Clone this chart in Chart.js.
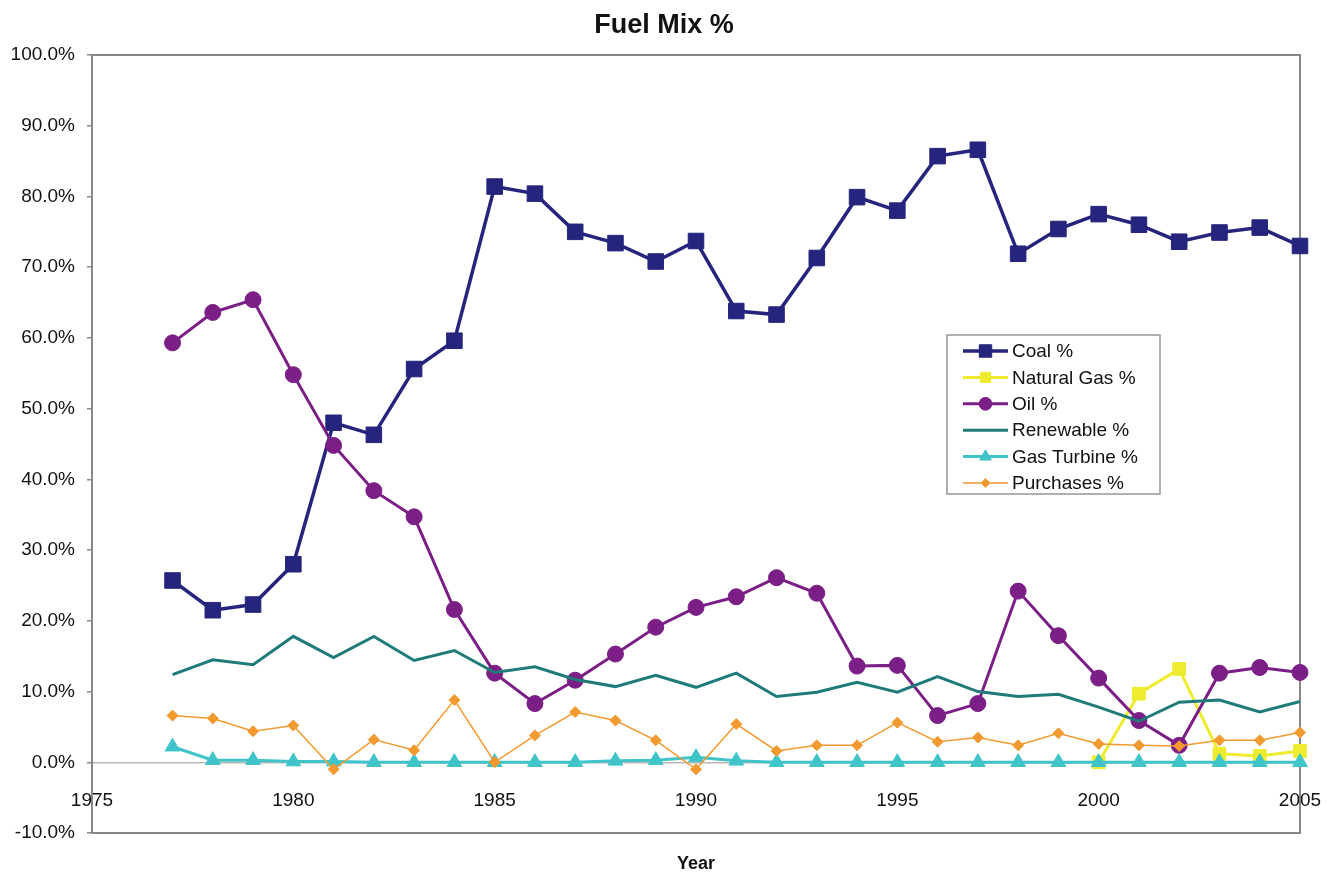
<!DOCTYPE html>
<html>
<head>
<meta charset="utf-8">
<title>Fuel Mix %</title>
<script src="https://cdn.jsdelivr.net/npm/chart.js@4.4.1/dist/chart.umd.min.js"></script>
<style>
  html, body { margin: 0; padding: 0; background: #ffffff; }
  #wrap { width: 1334px; height: 873px; position: relative; }
</style>
</head>
<body>
<div id="wrap"><canvas id="fuelMix"></canvas></div>
<script>
// Yearly fuel mix shares, in percent of total supply
const years = [1977, 1978, 1979, 1980, 1981, 1982, 1983, 1984, 1985, 1986,
               1987, 1988, 1989, 1990, 1991, 1992, 1993, 1994, 1995, 1996,
               1997, 1998, 1999, 2000, 2001, 2002, 2003, 2004, 2005];

const coal = [25.7, 21.5, 22.3, 28.0, 48.0, 46.3, 55.6, 59.6, 81.4, 80.4,
              75.0, 73.4, 70.8, 73.7, 63.8, 63.3, 71.3, 79.9, 78.0, 85.7,
              86.6, 71.9, 75.4, 77.5, 76.0, 73.6, 74.9, 75.6, 73.0];

const naturalGas = [null, null, null, null, null, null, null, null, null, null,
                    null, null, null, null, null, null, null, null, null, null,
                    null, null, null, 0.0, 9.7, 13.2, 1.2, 0.9, 1.6];

const oil = [59.3, 63.6, 65.4, 54.8, 44.8, 38.4, 34.7, 21.6, 12.6, 8.3,
             11.6, 15.3, 19.1, 21.9, 23.4, 26.1, 23.9, 13.6, 13.7, 6.6,
             8.3, 24.2, 17.9, 11.9, 5.9, 2.4, 12.6, 13.4, 12.7];

const renewable = [12.4, 14.5, 13.8, 17.8, 14.8, 17.8, 14.4, 15.8, 12.7, 13.5,
                   11.7, 10.7, 12.3, 10.6, 12.6, 9.3, 9.9, 11.3, 9.9, 12.1,
                   10.0, 9.3, 9.6, 7.8, 5.8, 8.5, 8.8, 7.1, 8.6];

const gasTurbine = [2.2, 0.3, 0.3, 0.1, 0.1, 0.0, 0.0, 0.0, 0.0, 0.0,
                    0.0, 0.2, 0.3, 0.7, 0.2, 0.0, 0.0, 0.0, 0.0, 0.0,
                    0.0, 0.0, 0.0, 0.0, 0.0, 0.0, 0.0, 0.0, 0.0];

const purchases = [6.6, 6.2, 4.4, 5.2, -1.0, 3.2, 1.7, 8.8, 0.0, 3.8,
                   7.1, 5.9, 3.1, -1.0, 5.4, 1.6, 2.4, 2.4, 5.6, 2.9,
                   3.5, 2.4, 4.1, 2.6, 2.4, 2.3, 3.1, 3.1, 4.2];

const seriesNames = ['Coal %', 'Natural Gas %', 'Oil %', 'Renewable %', 'Gas Turbine %', 'Purchases %'];

// Axis ranges and tick spacing
const yearMin = 1975, yearMax = 2005, yearStep = 5;
const pctMin = -10, pctMax = 100, pctStep = 10;

const toPoints = values => years.map((yr, i) => ({ x: yr, y: values[i] }));

const FONT = "'Liberation Sans', Arial, Helvetica, sans-serif";
Chart.defaults.font.family = FONT;
Chart.defaults.color = '#111111';

// Frame around the plotting area
const plotFrame = {
  id: 'plotFrame',
  beforeDatasetsDraw(chart) {
    const { ctx, chartArea: a } = chart;
    ctx.save();
    ctx.strokeStyle = '#8c8787';
    ctx.lineWidth = 2;
    ctx.strokeRect(a.left, a.top, a.right - a.left, a.bottom - a.top);
    ctx.restore();
  }
};

// Boxed legend placed inside the plot, built from the datasets' own styles
const boxedLegend = {
  id: 'boxedLegend',
  afterDraw(chart, args, opts) {
    const { ctx } = chart;
    ctx.save();
    ctx.fillStyle = '#ffffff';
    ctx.fillRect(opts.x, opts.y, opts.w, opts.h);
    ctx.strokeStyle = '#9a9595';
    ctx.lineWidth = 1.5;
    ctx.strokeRect(opts.x, opts.y, opts.w, opts.h);
    ctx.font = opts.fontSize + 'px ' + FONT;
    ctx.textBaseline = 'middle';
    ctx.textAlign = 'left';
    chart.data.datasets.forEach((ds, i) => {
      const cy = opts.firstRow + i * opts.rowGap;
      ctx.strokeStyle = ds.borderColor;
      ctx.lineWidth = ds.borderWidth;
      ctx.beginPath();
      ctx.moveTo(opts.lineX0, cy);
      ctx.lineTo(opts.lineX1, cy);
      ctx.stroke();
      if (ds.pointRadius > 0) {
        ctx.fillStyle = ds.pointBackgroundColor;
        ctx.strokeStyle = ds.pointBorderColor;
        ctx.lineWidth = 1;
        Chart.helpers.drawPoint(ctx, {
          pointStyle: ds.pointStyle,
          rotation: 0,
          radius: ds.pointRadius * 0.8,
          borderWidth: 1
        }, (opts.lineX0 + opts.lineX1) / 2, cy);
      }
      ctx.fillStyle = '#111111';
      ctx.fillText(ds.label, opts.textX, cy + 1);
    });
    ctx.restore();
  }
};

function series(label, values, color, style, radius, width, order) {
  return {
    label,
    data: toPoints(values),
    borderColor: color,
    backgroundColor: color,
    borderWidth: width,
    pointStyle: style,
    pointRadius: radius,
    pointHoverRadius: radius,
    pointBackgroundColor: color,
    pointBorderColor: color,
    pointBorderWidth: 1,
    tension: 0,
    spanGaps: false,
    clip: false,
    order
  };
}

const datasets = [
  series(seriesNames[0], coal,       '#25257d', 'rect',     11,   3.5, 6),
  series(seriesNames[1], naturalGas, '#efeb2e', 'rect',     9,    3,   5),
  series(seriesNames[2], oil,        '#7b1f86', 'circle',   8,    3,   4),
  series(seriesNames[3], renewable,  '#1f7a7a', 'circle',   0,    3,   3),
  series(seriesNames[4], gasTurbine, '#3fc4c9', 'triangle', 8.5,  3,   2),
  series(seriesNames[5], purchases,  '#f29a2f', 'rectRot',  5.5,  1.5, 1)
];

new Chart(document.getElementById('fuelMix'), {
  type: 'line',
  data: { datasets },
  plugins: [plotFrame, boxedLegend],
  options: {
    responsive: true,
    maintainAspectRatio: false,
    animation: false,
    devicePixelRatio: 1,
    layout: { padding: { left: 0, right: 6, top: 0, bottom: 0 } },
    plugins: {
      legend: { display: false },
      tooltip: { enabled: false },
      title: {
        display: true,
        text: 'Fuel Mix %',
        color: '#111111',
        font: { size: 27, weight: 'bold', lineHeight: 1.2 },
        padding: { top: 9, bottom: 13.6 }
      },
      boxedLegend: {
        x: 947, y: 335, w: 213, h: 159,
        lineX0: 963, lineX1: 1008, textX: 1012,
        firstRow: 351, rowGap: 26.4, fontSize: 19
      }
    },
    scales: {
      x: {
        type: 'linear',
        min: yearMin,
        max: yearMax,
        position: { y: 0 },
        // the end labels may hang past the frame; the right margin holds them
        afterFit: s => { s.paddingLeft = 0; s.paddingRight = 0; },
        grid: { display: false },
        border: { display: true, color: '#bdb8b8', width: 1.5 },
        ticks: {
          stepSize: yearStep,
          padding: 19,
          font: { size: 19 },
          color: '#111111',
          maxRotation: 0,
          callback: v => String(v)
        }
      },
      xTitle: {
        type: 'linear',
        axis: 'x',
        position: 'bottom',
        min: yearMin,
        max: yearMax,
        grid: { display: false },
        border: { display: false },
        ticks: { display: false },
        title: {
          display: true,
          text: 'Year',
          color: '#111111',
          font: { size: 18, weight: 'bold', lineHeight: 1 },
          padding: { top: 14, bottom: 0 }
        }
      },
      y: {
        type: 'linear',
        min: pctMin,
        max: pctMax,
        position: 'left',
        afterFit: s => { s.width = 92; },
        grid: {
          display: true,
          drawOnChartArea: false,
          drawTicks: true,
          tickLength: 5,
          color: '#8c8787',
          lineWidth: 1.5
        },
        border: { display: false },
        ticks: {
          stepSize: pctStep,
          padding: 12,
          font: { size: 19 },
          color: '#111111',
          callback: v => v.toFixed(1) + '%'
        }
      },
      // blank strip keeping the right margin beside the plot
      ySpacer: {
        type: 'linear',
        axis: 'y',
        position: 'right',
        min: pctMin,
        max: pctMax,
        afterFit: s => { s.width = 28; },
        grid: { display: false },
        border: { display: false },
        ticks: { display: false }
      }
    }
  }
});
</script>
</body>
</html>
